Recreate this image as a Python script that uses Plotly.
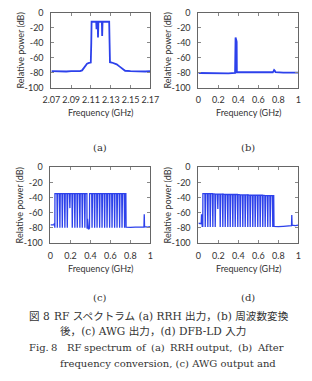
import plotly.graph_objects as go

W, H = 312, 381

# ---------------- data ----------------
# (a) RRH output spectrum, 2.07-2.17 GHz
freq_a = [2.070, 2.075, 2.080, 2.085, 2.090, 2.095, 2.099, 2.101, 2.103, 2.105, 2.106,
          2.108, 2.1098, 2.1103, 2.1106, 2.1140, 2.1153, 2.1156, 2.1160, 2.1168, 2.1171,
          2.1175, 2.1210, 2.1213, 2.1217, 2.1250, 2.1284, 2.1288, 2.1292, 2.1310, 2.1335,
          2.1360, 2.1390, 2.1420, 2.1445, 2.1500, 2.1550, 2.1600, 2.1650, 2.1700]
pow_a = [-78, -78.5, -78, -78.5, -78, -78.5, -78, -77, -74, -70, -68,
         -67, -66.5, -40, -12, -12, -12, -22, -12, -12, -33,
         -12, -12, -31, -12, -12, -12, -40, -66, -66.5, -67.5,
         -69, -72, -75, -77.5, -78, -78.5, -78, -78.5, -78]

# (b) after frequency conversion, 0-1 GHz
freq_b = [0.000, 0.100, 0.200, 0.300, 0.367, 0.369, 0.372, 0.376, 0.380, 0.383, 0.385,
          0.400, 0.500, 0.600, 0.700, 0.745, 0.752, 0.758, 0.765, 0.772, 0.850, 1.000]
pow_b = [-80.5, -81, -80.5, -81, -80.5, -36, -33, -35, -37, -39, -79.5,
         -79.5, -80, -79.5, -80, -79.5, -78, -76.5, -77.5, -79.5, -80, -80]

# (c) AWG output: comb of channels (dip frequency, dip level, top level)
dips_c = [0.069, 0.094, 0.119, 0.144, 0.169, 0.194, 0.219, 0.244, 0.269, 0.294, 0.319, 0.344,
          0.417, 0.442, 0.467, 0.492, 0.517, 0.542, 0.567, 0.592, 0.617, 0.642, 0.667, 0.692, 0.717, 0.742]
dipv_c = [-80, -80, -80, -80, -80, -54, -80, -80, -80, -80, -80, -80,
          -80, -80, -80, -80, -80, -80, -80, -80, -80, -80, -80, -80, -80, -80]
top_c = -35
edges_c = [(0.000, -76), (0.036, -76), (0.040, -74), (0.044, -80), (0.045, top_c)]
gap_c = [(0.365, top_c), (0.366, -81), (0.368, -80), (0.371, -68), (0.374, -80), (0.380, -82),
         (0.388, -81), (0.391, -80), (0.392, top_c)]
tail_c = [(0.755, top_c), (0.757, -79), (0.800, -79.5), (0.850, -79), (0.900, -79.5),
          (0.936, -79), (0.939, -62), (0.942, -78.5), (0.970, -79), (1.000, -78.5)]

# (d) DFB-LD input: continuous comb
dips_d = [0.069, 0.094, 0.119, 0.144, 0.169, 0.194, 0.219, 0.244, 0.269, 0.294, 0.319, 0.344,
          0.369, 0.394, 0.419, 0.444, 0.469, 0.494, 0.519, 0.544, 0.569, 0.594, 0.619, 0.644,
          0.669, 0.694, 0.719, 0.744]
dipv_d = [-79, -79, -79, -79, -79, -55, -79, -79, -79, -79, -79, -79,
          -79, -79, -79, -79, -79, -79, -79, -79, -79, -79, -79, -79,
          -79, -79, -79, -79]
topv_d = [-35, -35, -35, -35, -35.5, -35.5, -35.5, -35.5, -36, -36, -36, -36,
          -36, -36, -36.5, -36.5, -36.5, -36.5, -37, -37, -37, -37, -37, -37,
          -37.5, -37.5, -37.5, -37.5]
edges_d = [(0.000, -74), (0.028, -74.5), (0.031, -63), (0.036, -63), (0.038, -78), (0.044, -78), (0.045, -35)]
tail_d = [(0.754, -37.5), (0.757, -78), (0.800, -78.5), (0.850, -78), (0.900, -77.5),
          (0.932, -77), (0.935, -63), (0.938, -76.5), (0.970, -77), (1.000, -76.5)]

x_ticks_a = [2.07, 2.09, 2.11, 2.13, 2.15, 2.17]
x_ticks_b = [0, 0.2, 0.4, 0.6, 0.8, 1]
y_ticks = [0, -20, -40, -60, -80, -100]

# caption pieces (the English first line is justified in the reference)
cap_jp1 = [("図 8", 20), ("RF スペクトラム (a) RRH 出力，(b) 周波数変換", 47)]
cap_jp2 = [("後，(c) AWG 出力，(d) DFB-LD 入力", 53)]
cap_en1 = [("Fig.", 20), ("8", 44), ("RF", 60), ("spectrum", 78.5), ("of", 133.5), ("(a)", 149.5),
           ("RRH", 170), ("output,", 197.5), ("(b)", 241.5), ("After", 262)]
cap_en2 = [("frequency conversion, (c) AWG output and", 53)]


def comb(edges, dips, dipv, tops, tail):
    xs = [p[0] for p in edges]
    ys = [p[1] for p in edges]
    for d, v, t in zip(dips, dipv, tops):
        xs += [d - 0.004, d - 0.0005, d + 0.0005, d + 0.004]
        ys += [t, v, v, t]
    xs += [p[0] for p in tail]
    ys += [p[1] for p in tail]
    return xs, ys


# build (c): left group, gap, right group
left = [i for i, d in enumerate(dips_c) if d < 0.37]
right = [i for i, d in enumerate(dips_c) if d > 0.37]
xc1, yc1 = comb(edges_c, [dips_c[i] for i in left], [dipv_c[i] for i in left],
                [top_c] * len(left), gap_c)
xc2, yc2 = comb([], [dips_c[i] for i in right], [dipv_c[i] for i in right],
                [top_c] * len(right), tail_c)
freq_c, pow_c = xc1 + xc2, yc1 + yc2
freq_d, pow_d = comb(edges_d, dips_d, dipv_d, topv_d, tail_d)

# ---------------- figure ----------------
BLUE = "rgb(45,65,235)"
fig = go.Figure()


def px(x):
    return x / W


def py(y):
    return 1 - y / H


panels = [
    ("x", "y", freq_a, pow_a, [2.07, 2.17], x_ticks_a, [45, 150], [7, 84], 1.8),
    ("x2", "y2", freq_b, pow_b, [0, 1], x_ticks_b, [201, 307], [7, 84], 1.8),
    ("x3", "y3", freq_c, pow_c, [0, 1], x_ticks_b, [44, 150], [166, 244], 1.3),
    ("x4", "y4", freq_d, pow_d, [0, 1], x_ticks_b, [201, 307], [166, 244], 1.3),
]

tickfont = dict(family="Lato, Open Sans, sans-serif", size=9, color="#333")
layout = dict(width=W, height=H, margin=dict(l=0, r=0, t=0, b=0),
              paper_bgcolor="white", plot_bgcolor="white", showlegend=False)

for i, (xa, ya, xs, ys, xr, xt, xpx, ypx, lw) in enumerate(panels):
    fig.add_trace(go.Scatter(x=xs, y=ys, mode="lines", xaxis=xa, yaxis=ya,
                             line=dict(color=BLUE, width=lw)))
    sfx = "" if i == 0 else str(i + 1)
    layout["xaxis" + sfx] = dict(
        domain=[px(xpx[0]), px(xpx[1])], range=xr, anchor=ya,
        tickvals=xt, ticktext=[("%g" % v) for v in xt], tickangle=0,
        showgrid=False, zeroline=False, showline=True, linecolor="#666", linewidth=1,
        mirror="ticks", ticks="inside", ticklen=3, tickcolor="#888",
        tickfont=tickfont, ticklabelstandoff=4)
    layout["yaxis" + sfx] = dict(
        domain=[py(ypx[1]), py(ypx[0])], range=[-100, 0], anchor=xa,
        tickvals=y_ticks, ticktext=[str(v) for v in y_ticks],
        showgrid=False, zeroline=False, showline=True, linecolor="#666", linewidth=1,
        mirror="ticks", ticks="inside", ticklen=3, tickcolor="#888",
        tickfont=tickfont, ticklabelstandoff=5)

fig.update_layout(**layout)

axfont = dict(family="Lato, Open Sans, sans-serif", size=9, color="#333")
ann = []
for (xpx, ypx) in [([45, 150], [7, 84]), ([201, 307], [7, 84]), ([44, 150], [166, 244]), ([201, 307], [166, 244])]:
    ann.append(dict(x=px((xpx[0] + xpx[1]) / 2), y=py(ypx[1] + 26), text="Frequency (GHz)",
                    font=axfont, showarrow=False, xref="paper", yref="paper",
                    xanchor="center", yanchor="middle"))
    ann.append(dict(x=px(xpx[0] - 33), y=py((ypx[0] + ypx[1]) / 2), text="Relative power (dB)",
                    font=axfont, showarrow=False, xref="paper", yref="paper", textangle=-90,
                    xanchor="center", yanchor="middle"))

serif = "DejaVu Serif, Liberation Serif, Noto Sans CJK JP, serif"
labfont = dict(family=serif, size=10, color="#333")
for t, x, y in [("(a)", 97, 146), ("(b)", 254, 146), ("(c)", 97, 300), ("(d)", 254, 300)]:
    ann.append(dict(x=px(x), y=py(y), text=t, font=labfont, showarrow=False,
                    xref="paper", yref="paper", xanchor="center", yanchor="middle"))

jp_font = dict(family=serif, size=10.6, color="#333")
en_font = dict(family=serif, size=10, color="#333")
for words, y, f in [(cap_jp1, 319, jp_font), (cap_jp2, 335, jp_font),
                    (cap_en1, 352, en_font), (cap_en2, 368, en_font)]:
    for t, x in words:
        ann.append(dict(x=px(x), y=py(y), text=t, font=f, showarrow=False, align="left",
                        xref="paper", yref="paper", xanchor="left", yanchor="middle",
                        borderpad=0))

fig.update_layout(annotations=ann)
fig.write_html("out.html")
